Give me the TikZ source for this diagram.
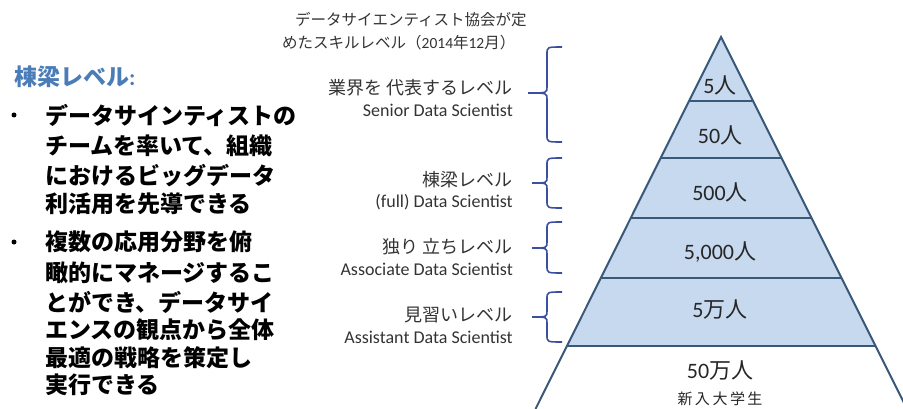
\documentclass[tikz,border=0pt]{standalone}
\usepackage{fontspec}
\setmainfont{Noto Sans CJK JP}
\newfontfamily\lat{Carlito}
\definecolor{pyfill}{HTML}{C6D9EF}
\definecolor{pyline}{HTML}{3A5877}
\definecolor{brc}{HTML}{3A4FA0}
\definecolor{headblue}{HTML}{4A7DB8}
\definecolor{txt}{HTML}{333333}
\tikzset{
  lefttext/.style={anchor=west, inner sep=0pt, font=\fontsize{23}{23}\selectfont\bfseries},
  bulletdot/.style={circle, fill=black, inner sep=0pt, minimum size=5pt},
  lvlJ/.style={anchor=east, inner sep=0pt, text=txt, font=\fontsize{18}{18}\selectfont},
  lvlE/.style={anchor=east, inner sep=0pt, text=txt, font=\lat\fontsize{18}{18}\selectfont},
  cnt/.style={inner sep=0pt, text=black!85, font=\fontsize{22}{22}\selectfont},
  ttl/.style={anchor=west, inner sep=0pt, text=txt, font=\fontsize{15.5}{15.5}\selectfont},
  brace/.style={draw=brc, line width=1.6pt},
  band/.style={draw=pyline, line width=2pt}
}
\newcommand{\mybrace}[4]{% top, mid, bottom, pointx
  \draw[brace] (562,#1) .. controls (547,#1) .. (547,#1+7) -- (547,#2-6) .. controls (547,#2) .. (#4,#2)
    .. controls (547,#2) .. (547,#2+6) -- (547,#3-7) .. controls (547,#3) .. (562,#3);}
\begin{document}
\begin{tikzpicture}[x=1pt,y=-1pt]
\useasboundingbox (0,0) rectangle (903,409);
\begin{scope}
\clip (0,0) rectangle (903,409);
% pyramid
\coordinate (A) at (721,37);
\coordinate (L1) at (689,101);   \coordinate (R1) at (753,101);
\coordinate (L2) at (660.5,158); \coordinate (R2) at (781.5,158);
\coordinate (L3) at (630.5,218); \coordinate (R3) at (811.5,218);
\coordinate (L4) at (600.5,278); \coordinate (R4) at (841.5,278);
\coordinate (L5) at (567,346);   \coordinate (R5) at (875,346);
\coordinate (L6) at (535.5,409); \coordinate (R6) at (907,409);
\fill[pyfill] (A) -- (L5) -- (R5) -- cycle;
\draw[band, line join=miter] (L6) -- (A) -- (R6);
\draw[band] (L1) -- (R1);
\draw[band] (L2) -- (R2);
\draw[band] (L3) -- (R3);
\draw[band] (L4) -- (R4);
\draw[band] (L5) -- (R5);
\end{scope}
\node[cnt] (c1) at (720,85) {{\lat 5}人};
\node[cnt] (c2) at (720,135) {{\lat 50}人};
\node[cnt] (c3) at (720,192) {{\lat 500}人};
\node[cnt] (c4) at (720,252) {{\lat 5,000}人};
\node[cnt] (c5) at (720,310) {{\lat 5}万人};
\node[cnt] (c6) at (720,371) {{\lat 50}万人};
\node[cnt, font=\fontsize{15}{15}\selectfont] (c7) at (720,399) {新\,入\,大\,学\,生};
% braces
\mybrace{47}{93}{142}{528}
\mybrace{158}{183}{208}{532}
\mybrace{222}{248}{273}{532}
\mybrace{292}{317}{342}{532}
% level labels
\node[lvlJ] (j1) at (513,88) {業界を 代表するレベル};
\node[lvlE] (e1) at (513,110) {Senior Data Scientist};
\node[lvlJ] (j2) at (513,180) {棟梁レベル};
\node[lvlE] (e2) at (513,202) {(full) Data Scientist};
\node[lvlJ] (j3) at (513,247) {独り 立ちレベル};
\node[lvlE] (e3) at (513,269) {Associate Data Scientist};
\node[lvlJ] (j4) at (513,315) {見習いレベル};
\node[lvlE] (e4) at (513,337) {Assistant Data Scientist};
% title
\node[ttl] (t1) at (295,20) {データサイエンティスト協会が定};
\node[ttl] (t2) at (282,43) {めたスキルレベル（{\lat 2014}年{\lat 12}月）};
% left text
\node[anchor=west, inner sep=0pt, text=headblue, font=\fontsize{23}{23}\selectfont\bfseries] (h) at (14,77) {棟梁レベル{\lat :}};
\node[bulletdot] (b1) at (14,115) {};
\node[lefttext] (l1) at (45,115) {データサインティストの};
\node[lefttext] (l2) at (45,146) {チームを率いて、組織};
\node[lefttext] (l3) at (45,176) {におけるビッグデータ};
\node[lefttext] (l4) at (45,204) {利活用を先導できる};
\node[bulletdot] (b2) at (14,242) {};
\node[lefttext] (l5) at (45,242) {複数の応用分野を俯};
\node[lefttext] (l6) at (45,273) {瞰的にマネージするこ};
\node[lefttext] (l7) at (45,302) {とができ、データサイ};
\node[lefttext] (l8) at (45,330) {エンスの観点から全体};
\node[lefttext] (l9) at (45,358) {最適の戦略を策定し};
\node[lefttext] (l10) at (45,385) {実行できる};
\end{tikzpicture}
\end{document}
